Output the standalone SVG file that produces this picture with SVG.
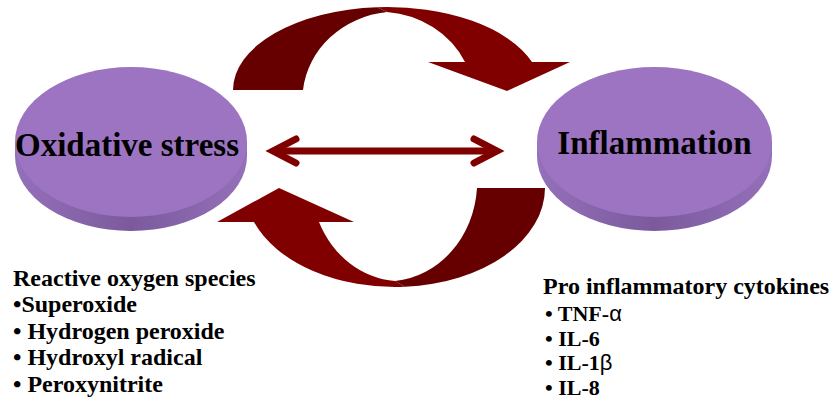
<svg xmlns="http://www.w3.org/2000/svg" width="835" height="404" viewBox="0 0 835 404">
<defs>
<linearGradient id="side" x1="0" y1="0" x2="1" y2="0">
<stop offset="0" stop-color="#9470BA"/>
<stop offset="0.5" stop-color="#7B5A9C"/>
<stop offset="1" stop-color="#9470BA"/>
</linearGradient>
</defs>
<style>
.face{fill:#9C74C1}
.side{fill:url(#side)}
.lbl{font-family:"Liberation Serif","Times New Roman",serif;font-weight:bold;fill:#000}
.big{font-size:33px}
.list{font-size:24px}
.small{font-size:22px}
.greek{font-family:"Liberation Sans","DejaVu Sans",sans-serif;font-weight:normal}
.dk{fill:#660000}
.lt{fill:#800000}
.dbl{fill:none;stroke:#800000;stroke-width:7}
</style>
<rect width="835" height="404" fill="#fff"/>

<g id="node-oxidative">
<ellipse class="side" cx="131" cy="156" rx="116" ry="75"/>
<rect class="side" x="15" y="142" width="232" height="14"/>
<ellipse class="face" cx="131" cy="142" rx="116" ry="75"/>
<text class="lbl big" x="127" y="156" text-anchor="middle">Oxidative stress</text>
</g>

<g id="node-inflammation">
<ellipse class="side" cx="654.5" cy="156" rx="117.5" ry="75"/>
<rect class="side" x="537" y="142" width="235" height="14"/>
<ellipse class="face" cx="654.5" cy="142" rx="117.5" ry="75"/>
<text class="lbl big" x="654.5" y="154" text-anchor="middle">Inflammation</text>
</g>

<g id="connectors">
<g id="top-arrow">
<path class="dk" d="M233,90 A154,83 0 0 1 377,7.2 L387,12 A95,88 0 0 0 303,90 Z"/>
<path class="lt" d="M377,7.2 A154,83 0 0 1 532,62 L570,62 L507,91 L428,62 L465,62 A95,88 0 0 0 387,12 Z"/>
</g>
<g id="bottom-arrow">
<path class="lt" d="M405,286.8 A150,99 0 0 1 254,222 L217,222 L279,188 L354,222 L319,222 A90,100 0 0 0 395,281 Z"/>
<path class="dk" d="M545,188 A150,99 0 0 1 405,286.8 L395,281 A90,100 0 0 0 477,188 Z"/>
</g>
<g id="double-arrow">
<line class="dbl" x1="273" y1="151" x2="497" y2="151"/>
<polyline class="dbl" points="296,139 273,151 296,163" stroke-linecap="round" stroke-linejoin="miter"/>
<polyline class="dbl" points="474,139 497,151 474,163" stroke-linecap="round" stroke-linejoin="miter"/>
</g>
</g>

<g id="ros-list" class="lbl list">
<text x="13" y="286">Reactive oxygen species</text>
<text x="13" y="312">•Superoxide</text>
<text x="13" y="339">• Hydrogen peroxide</text>
<text x="13" y="365">• Hydroxyl radical</text>
<text x="13" y="392">• Peroxynitrite</text>
</g>

<g id="cytokine-list" class="lbl">
<text class="list" x="543" y="294">Pro inflammatory cytokines</text>
<text class="small" x="545" y="321">• TNF-<tspan class="greek">α</tspan></text>
<text class="small" x="545" y="346">• IL-6</text>
<text class="small" x="545" y="370">• IL-1<tspan class="greek">β</tspan></text>
<text class="small" x="545" y="395">• IL-8</text>
</g>
</svg>
